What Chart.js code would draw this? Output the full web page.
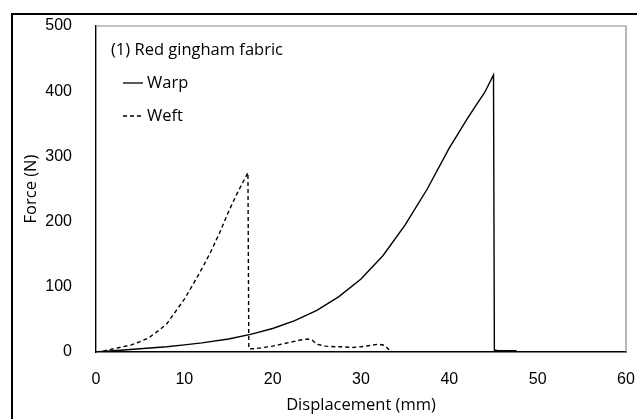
<!DOCTYPE html>
<html>
<head>
<meta charset="utf-8">
<script src="https://cdn.jsdelivr.net/npm/chart.js@4.4.1/dist/chart.umd.min.js"></script>
<style>
  html, body { margin: 0; padding: 0; background: #fff; }
  #wrap { position: relative; width: 637px; height: 419px; }
  #frame { position: absolute; left: 11px; top: 13px; right: -5px; bottom: -5px;
           border-top: 2px solid #000; border-left: 2px solid #000; }
  canvas { position: absolute; left: 0; top: 0; }
</style>
</head>
<body>
<div id="wrap">
  <div id="frame"></div>
  <canvas id="myChart" width="637" height="419"></canvas>
</div>
<script>
// dados
const warpX = [0, 2, 5, 8, 10, 12, 15, 17.5, 20, 22.5, 25, 27.5, 30, 32.5, 35, 37.5, 40, 41, 42, 43, 44, 45, 45.1, 45.5, 47.5, 47.7];
const warpY = [0, 2, 5, 8, 11, 14, 20, 27, 36, 48, 64, 85, 112, 148, 195, 250, 313, 335, 357, 378, 398, 425, 3, 2, 2, 0];

const weftX = [0, 1, 2, 3, 4, 5, 6, 7, 8, 9, 10, 11, 12, 13, 14, 15, 16, 17.2, 17.3, 18, 19, 20, 21, 22, 23, 24, 24.5, 25, 26, 27, 28, 29, 30, 31, 32, 32.7, 33.2, 33.6];
const weftY = [0, 2, 5, 8, 11, 16, 22, 32, 43, 62, 81, 104, 128, 154, 183, 215, 244, 275, 5, 5, 7, 9, 12, 15, 18, 20, 18, 12, 9, 8, 8, 7, 8, 10, 12, 10, 3, 0];

const xTicks = [0, 10, 20, 30, 40, 50, 60];
const yTicks = [0, 100, 200, 300, 400, 500];

const chartTitle = '(1) Red gingham fabric';
const seriesNames = ['Warp', 'Weft'];

const toPoints = (xs, ys) => xs.map((x, i) => ({ x: x, y: ys[i] }));

const ctx = document.getElementById('myChart');
const textFont = "'Open Sans', sans-serif";

// moldura cinza em cima e à direita da área do gráfico
const plotFrame = {
  id: 'plotFrame',
  beforeDatasetsDraw(chart) {
    const a = chart.chartArea;
    const c = chart.ctx;
    c.save();
    c.strokeStyle = '#8a8a8a';
    c.lineWidth = 1.2;
    c.beginPath();
    c.moveTo(a.left, a.top);
    c.lineTo(a.right, a.top);
    c.lineTo(a.right, a.bottom);
    c.stroke();
    c.restore();
  }
};

// legenda dentro do gráfico
const innerLegend = {
  id: 'innerLegend',
  afterDraw(chart) {
    const a = chart.chartArea;
    const c = chart.ctx;
    c.save();
    c.fillStyle = '#000';
    c.font = "16.5px " + textFont;
    c.textBaseline = 'middle';
    c.fillText(chartTitle, a.left + 15, a.top + 24);
    chart.data.datasets.forEach((ds, i) => {
      const y = a.top + 57 + i * 33;
      c.strokeStyle = '#000';
      c.lineWidth = 1.3;
      c.setLineDash(ds.borderDash || []);
      c.beginPath();
      c.moveTo(a.left + 27, y);
      c.lineTo(a.left + 47, y);
      c.stroke();
      c.setLineDash([]);
      c.fillText(ds.label, a.left + 51, y);
    });
    c.restore();
  }
};

new Chart(ctx, {
  type: 'scatter',
  data: {
    datasets: [{
      label: seriesNames[0],
      data: toPoints(warpX, warpY),
      showLine: true,
      borderColor: '#000',
      borderWidth: 1.4,
      pointRadius: 0,
      tension: 0
    }, {
      label: seriesNames[1],
      data: toPoints(weftX, weftY),
      showLine: true,
      borderColor: '#000',
      borderWidth: 1.4,
      borderDash: [4, 3],
      pointRadius: 0,
      tension: 0
    }]
  },
  options: {
    responsive: false,
    animation: false,
    layout: { padding: { left: 0, top: 26, right: 11, bottom: 0 } },
    plugins: {
      legend: { display: false },
      tooltip: { enabled: false }
    },
    scales: {
      x: {
        type: 'linear',
        min: 0,
        max: 60,
        afterBuildTicks: s => { s.ticks = xTicks.map(v => ({ value: v })); },
        afterFit: s => { s.height = 67; s.paddingLeft = 0; s.paddingRight = 0; },
        grid: { display: false },
        border: { display: true, color: '#000', width: 1.4 },
        ticks: { color: '#000', padding: 10, font: { family: "'Liberation Sans', Arial", size: 16 } },
        title: { display: true, text: 'Displacement (mm)', color: '#000', padding: { top: 0, bottom: 4 }, font: { family: textFont, size: 16.5 } }
      },
      y: {
        type: 'linear',
        min: 0,
        max: 500,
        afterBuildTicks: s => { s.ticks = yTicks.map(v => ({ value: v })); },
        afterFit: s => { s.width = 96; s.paddingTop = 0; s.paddingBottom = 0; },
        grid: { display: false },
        border: { display: true, color: '#000', width: 1.4 },
        ticks: { color: '#000', padding: 16, font: { family: "'Liberation Sans', Arial", size: 16 } },
        title: { display: true, text: 'Force (N)', color: '#000', padding: { top: 21, bottom: 0 }, font: { family: textFont, size: 16.5 } }
      }
    }
  },
  plugins: [plotFrame, innerLegend]
});
</script>
</body>
</html>
